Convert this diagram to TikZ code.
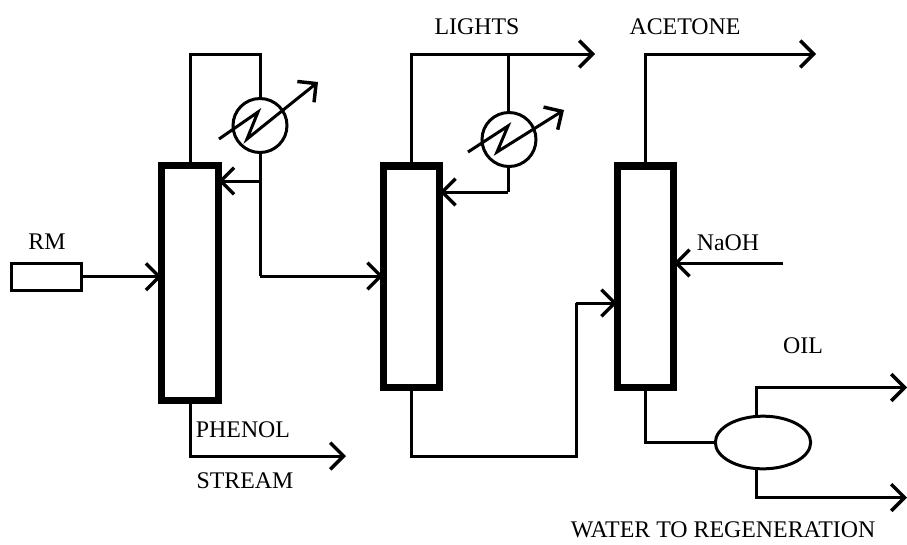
\documentclass[tikz,border=0pt]{standalone}
\usepackage{fontspec}
\setmainfont{Liberation Serif}
\usetikzlibrary{arrows.meta,shapes.geometric}

\begin{document}
\begin{tikzpicture}[
    x=0.75pt,y=-0.75pt,
    line join=miter,
    pipe/.style={draw=black,line width=2.25pt},
    feed/.style={pipe,-{Straight Barb[length=10pt,width=20pt,line width=2.6pt]}},
    column/.style={rectangle,draw=black,fill=white,line width=5.5pt,inner sep=0pt,outer sep=0pt,minimum width=42.4pt},
    drum/.style={ellipse,draw=black,fill=white,line width=2.25pt,inner sep=0pt,outer sep=0pt,minimum width=71.5pt,minimum height=39.5pt},
    cooler/.style={circle,draw=black,fill=white,line width=2.25pt,inner sep=0pt,outer sep=0pt,minimum size=40.5pt},
    rmbox/.style={rectangle,draw=black,line width=2.25pt,inner sep=0pt,outer sep=0pt,minimum width=52.5pt,minimum height=20pt},
    streamlabel/.style={font=\fontsize{17.9}{20}\selectfont,inner sep=0pt}
]

\useasboundingbox (0,0) rectangle (907,544);

\node[column,minimum height=176pt] (colA) at (190,283) {};
\node[column,minimum height=166pt] (colB) at (411.5,276.5) {};
\node[column,minimum height=166pt] (colC) at (645.5,276.5) {};

\node[cooler] (condA) at (260,125.5) {};
\node[cooler] (condB) at (509,139.5) {};
\node[rmbox] (feedbox) at (46,276.75) {};
\node[drum] (sep) at (763,442.5) {};

\coordinate (topA) at (260,54);
\coordinate (refluxA) at (260,181);
\coordinate (sideA) at (260,276);
\coordinate (topB) at (508,54);
\coordinate (refluxB) at (508,192);
\coordinate (lightsEnd) at (595,54);
\coordinate (acetoneEnd) at (816,54);
\coordinate (naohStart) at (783,263);
\coordinate (phenolEnd) at (346,456);
\coordinate (bottomB) at (576,456);
\coordinate (riseB) at (576,303);
\coordinate (oilTurn) at (756,387.5);
\coordinate (waterTurn) at (756,497.5);
\coordinate (oilEnd) at (907,387.5);
\coordinate (waterEnd) at (907,497.5);

\coordinate (coilAin) at (219,139);
\coordinate (coilAup) at (258,112);
\coordinate (coilAdown) at (247,139);
\coordinate (coilAout) at (318,82);
\coordinate (coilBin) at (468,152);
\coordinate (coilBup) at (508,126);
\coordinate (coilBdown) at (497,152);
\coordinate (coilBout) at (564,110);

\draw[feed] (feedbox.east) -- (colA.west |- feedbox.east);

\draw[pipe] (colA.north) -- (colA.north |- topA) -- (topA) -- (condA.north);
\draw[pipe] (condA.south) -- (sideA);
\draw[feed] (refluxA) -- (colA.east |- refluxA);
\draw[feed] (sideA) -- (colB.west |- sideA);
\draw[feed] (colA.south) -- (colA.south |- phenolEnd) -- (phenolEnd);

\draw[feed] (colB.north) -- (colB.north |- lightsEnd) -- (lightsEnd);
\draw[pipe] (topB) -- (topB |- condB.north);
\draw[pipe] (topB |- condB.south) -- (refluxB);
\draw[feed] (refluxB) -- (colB.east |- refluxB);
\draw[pipe] (colB.south) -- (colB.south |- bottomB) -- (bottomB) -- (riseB);
\draw[feed] (riseB) -- (colC.west |- riseB);

\draw[feed] (colC.north) -- (colC.north |- acetoneEnd) -- (acetoneEnd);
\draw[feed] (naohStart) -- (colC.east |- naohStart);
\draw[pipe] (colC.south) -- (colC.south |- sep.west) -- (sep.west);
\draw[feed] (oilTurn |- sep.north) -- (oilTurn) -- (oilEnd);
\draw[feed] (waterTurn |- sep.south) -- (waterTurn) -- (waterEnd);

\draw[feed] (coilAin) -- (coilAup) -- (coilAdown) -- (coilAout);
\draw[feed] (coilBin) -- (coilBup) -- (coilBdown) -- (coilBout);

\node[streamlabel] (rmlabel) at (47,242) {RM};
\node[streamlabel] (phenollabel) at (243,430) {PHENOL};
\node[streamlabel] (streamlabel) at (245,481) {STREAM};
\node[streamlabel] (lightslabel) at (477,27) {LIGHTS};
\node[streamlabel] (acetonelabel) at (685,27) {ACETONE};
\node[streamlabel] (naohlabel) at (728,243) {NaOH};
\node[streamlabel] (oillabel) at (803,346) {OIL};
\node[streamlabel] (waterlabel) at (723,530) {WATER TO REGENERATION};

\end{tikzpicture}
\end{document}
